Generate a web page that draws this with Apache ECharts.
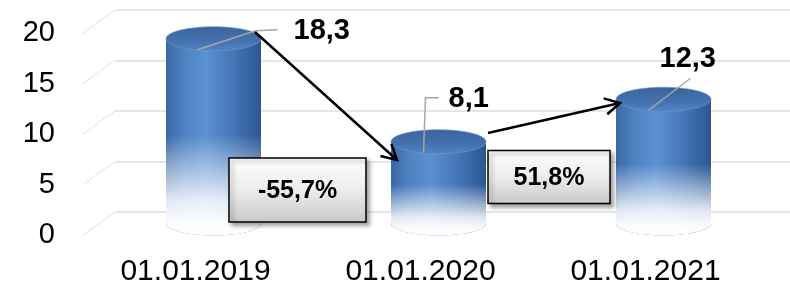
<!DOCTYPE html>
<html>
<head>
<meta charset="utf-8">
<script src="https://cdn.jsdelivr.net/npm/echarts@6/dist/echarts.min.js"></script>
<style>
html,body{margin:0;padding:0;background:#fff;}
#chart{width:790px;height:289px;}
</style>
</head>
<body>
<div id="chart"></div>
<script>
// ---- data ----
const categories = ['01.01.2019', '01.01.2020', '01.01.2021'];
const values = [18.3, 8.1, 12.3];
const valueLabels = ['18,3', '8,1', '12,3'];
const changes = [-55.7, 51.8];
const changeLabels = ['-55,7%', '51,8%'];
const yTicks = [0, 5, 10, 15, 20];

// ---- layout / style (pixels) ----
const DEPTH = [32, -23];            // back wall offset
const MID = [18, -11.5];            // cylinder placement offset
const RX = 47.5, RY = 12;
const labelLayout = [
  { line: [[-16, 11], [42, -8], [64, -9]], text: [80, -8] },
  { line: [[-15, 11], [-13, -44], [0, -44]], text: [10, -43] },
  { line: [[-15, 11], [27, -21]], text: [-4, -40] }
];
const arrowLayout = [
  { from: [41.5, -6.7], to: [-41.5, 18.3] },
  { from: [49.5, -8.7], to: [-43.5, 3.7] }
];
const boxLayout = [
  { dx: -10.5, dy: -45, w: 137, h: 64 },
  { dx: 16, dy: -58, w: 122, h: 53 }
];

const chart = echarts.init(document.getElementById('chart'), null, { renderer: 'canvas' });

function cylinderItem(params, api) {
  const i = api.value(0), v = api.value(1);
  const p = api.coord([i, v]);
  const p0 = api.coord([i, 0]);
  const cx = p[0] + MID[0];
  const top = p[1] + MID[1];
  const bot = p0[1] + MID[1];
  const x0 = cx - RX, x1 = cx + RX;
  const h = bot - top;
  const bodyPath = `M ${x0} ${top} L ${x0} ${bot} A ${RX} ${RY} 0 0 0 ${x1} ${bot} L ${x1} ${top} Z`;
  const bodyFill = new echarts.graphic.LinearGradient(0, 0, 1, 0, [
    { offset: 0, color: '#3a68a4' },
    { offset: 0.2, color: '#4f83c4' },
    { offset: 0.42, color: '#5b90d2' },
    { offset: 0.7, color: '#4677b8' },
    { offset: 1, color: '#2b5690' }
  ]);
  const fadeStart = top + h * 0.52;
  const fadePath = `M ${x0} ${fadeStart} L ${x0} ${bot} A ${RX} ${RY} 0 0 0 ${x1} ${bot} L ${x1} ${fadeStart} Z`;
  const fadeFill = new echarts.graphic.LinearGradient(0, 0, 0, 1, [
    { offset: 0, color: 'rgba(255,255,255,0)' },
    { offset: 0.3, color: 'rgba(255,255,255,0.4)' },
    { offset: 0.65, color: 'rgba(255,255,255,0.85)' },
    { offset: 0.85, color: 'rgba(255,255,255,0.97)' },
    { offset: 1, color: 'rgba(255,255,255,1)' }
  ]);
  const topFill = new echarts.graphic.LinearGradient(0, 0, 0, 1, [
    { offset: 0, color: '#3a6399' },
    { offset: 0.6, color: '#4472b0' },
    { offset: 1, color: '#5585c4' }
  ]);
  const lay = labelLayout[i];
  const pts = lay.line.map(q => [cx + q[0], top + q[1]]);
  return {
    type: 'group',
    children: [
      { type: 'path', shape: { pathData: bodyPath }, style: { fill: bodyFill } },
      { type: 'path', shape: { pathData: fadePath }, style: { fill: fadeFill } },
      { type: 'ellipse', shape: { cx: cx, cy: top, rx: RX, ry: RY }, style: { fill: topFill, stroke: 'rgba(110,150,205,0.6)', lineWidth: 1 } },
      { type: 'polyline', shape: { points: pts }, style: { stroke: '#a6a6a6', lineWidth: 1.5, fill: null } },
      { type: 'text', x: cx + lay.text[0], y: top + lay.text[1],
        style: { text: valueLabels[i], fill: '#000', fontSize: 29, fontWeight: 'bold',
          fontFamily: 'Liberation Sans, Arial, sans-serif', align: 'left', verticalAlign: 'middle' } }
    ]
  };
}

function changeItem(params, api) {
  const i = api.value(0);
  const a = api.coord([i, values[i]]);
  const b = api.coord([i + 1, values[i + 1]]);
  const base = api.coord([i, 0]);
  const al = arrowLayout[i];
  const s = [a[0] + MID[0] + al.from[0], a[1] + MID[1] + al.from[1]];
  const e = [b[0] + MID[0] + al.to[0], b[1] + MID[1] + al.to[1]];
  const ang = Math.atan2(e[1] - s[1], e[0] - s[0]);
  const L = 17, spread = 0.5;
  const h1 = [e[0] - L * Math.cos(ang - spread), e[1] - L * Math.sin(ang - spread)];
  const h2 = [e[0] - L * Math.cos(ang + spread), e[1] - L * Math.sin(ang + spread)];
  const bl = boxLayout[i];
  const mx = (a[0] + b[0]) / 2 + bl.dx;
  const my = base[1] + bl.dy;
  return {
    type: 'group',
    children: [
      { type: 'line', shape: { x1: s[0], y1: s[1], x2: e[0], y2: e[1] }, style: { stroke: '#000', lineWidth: 2.5 } },
      { type: 'polyline', shape: { points: [h1, e, h2] }, style: { stroke: '#000', lineWidth: 2.5, fill: null } },
      { type: 'rect', shape: { x: mx - bl.w / 2, y: my - bl.h / 2, width: bl.w, height: bl.h },
        style: { fill: new echarts.graphic.LinearGradient(0, 0, 0, 1, [
          { offset: 0, color: '#ffffff' }, { offset: 0.5, color: '#ececec' }, { offset: 1, color: '#c9c9c9' }]),
          stroke: '#000', lineWidth: 1.5, shadowColor: 'rgba(0,0,0,0.35)', shadowBlur: 4, shadowOffsetX: 3, shadowOffsetY: 3 } },
      { type: 'text', x: mx, y: my + 1,
        style: { text: changeLabels[i], fill: '#000', fontSize: 25, fontWeight: 'bold',
          fontFamily: 'Liberation Sans, Arial, sans-serif', align: 'center', verticalAlign: 'middle' } }
    ]
  };
}

function diagItem(params, api) {
  const v = api.value(1);
  const p = api.coord([0, v]);
  const x = params.coordSys.x;
  return {
    type: 'line',
    shape: { x1: x, y1: p[1], x2: x + DEPTH[0], y2: p[1] + DEPTH[1] },
    style: { stroke: '#e2e2e2', lineWidth: 1.2, lineDash: [2, 1] }
  };
}

const option = {
  animation: false,
  backgroundColor: '#fff',
  grid: [
    { left: 83, right: 32, top: 33, bottom: 54 },
    { left: 115, right: 0, top: 10, bottom: 77 }
  ],
  xAxis: [
    { type: 'category', gridIndex: 0, data: categories,
      axisLine: { show: false }, axisTick: { show: false },
      axisLabel: { fontSize: 30, color: '#000', fontFamily: 'Liberation Sans, Arial, sans-serif', margin: 22 } },
    { type: 'category', gridIndex: 1, data: categories, show: false }
  ],
  yAxis: [
    { type: 'value', gridIndex: 0, min: 0, max: 20, interval: 5,
      axisLine: { show: false }, axisTick: { show: false }, splitLine: { show: false },
      axisLabel: { fontSize: 29, color: '#000', fontFamily: 'Liberation Sans, Arial, sans-serif', margin: 28 } },
    { type: 'value', gridIndex: 1, min: 0, max: 20, interval: 5,
      axisLine: { show: false }, axisTick: { show: false }, axisLabel: { show: false },
      splitLine: { show: true, lineStyle: { color: '#e6e6e6', width: 2 } } }
  ],
  series: [
    { type: 'custom', name: 'depth', xAxisIndex: 0, yAxisIndex: 0, z: 1,
      data: yTicks.map(t => [0, t]), renderItem: diagItem, silent: true },
    { type: 'custom', name: 'values', xAxisIndex: 0, yAxisIndex: 0, z: 3,
      data: values.map((v, i) => [i, v]), renderItem: cylinderItem, silent: true },
    { type: 'custom', name: 'changes', xAxisIndex: 0, yAxisIndex: 0, z: 5,
      data: changes.map((c, i) => [i, c]), renderItem: changeItem, silent: true,
      encode: { x: 0, y: -1 } }
  ]
};
chart.setOption(option);
</script>
</body>
</html>
